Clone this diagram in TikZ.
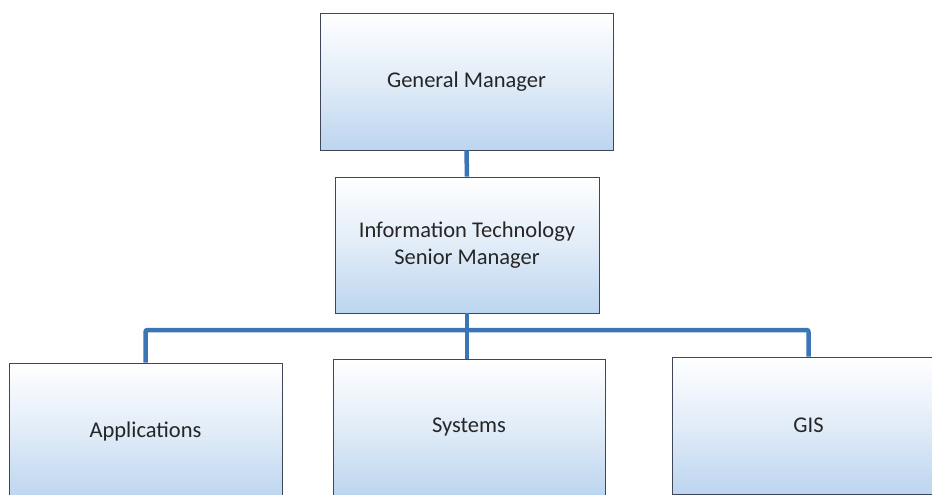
\documentclass[tikz,border=0pt]{standalone}
\usepackage{fontspec}
\setmainfont{Carlito}
\usepackage{tikz}
\usetikzlibrary{positioning}
\definecolor{linkblue}{RGB}{58,117,181}
\definecolor{boxblue}{RGB}{188,213,239}
\definecolor{boxedge}{RGB}{62,70,88}
\tikzset{
  post box/.style={
    draw=boxedge,
    line width=0.9pt,
    top color=white,
    bottom color=boxblue,
    middle color=white!55!boxblue,
    shading angle=0,
    inner sep=0pt,
    align=center,
    text=black!85,
    font=\fontsize{22.5}{27}\selectfont
  },
  link/.style={
    draw=linkblue,
    line width=4.5pt,
    rounded corners=2pt
  }
}
\begin{document}
\begin{tikzpicture}[x=1pt, y=1pt]
    % page frame: 1pt = 1 pixel
    \useasboundingbox (0,0) rectangle (932,-495);

    % top two levels
    \node[post box, minimum width=293pt, minimum height=137pt] (gm) at (466.5,-81.5) {General Manager};
    \node[post box, minimum width=264pt, minimum height=136pt] (itsm) at (467,-245) {Information Technology\\Senior Manager};

    % bottom row
    \node[post box, minimum width=273pt, minimum height=137pt] (apps) at (145.5,-431.5) {Applications};
    \node[post box, minimum width=272pt, minimum height=137pt] (sys) at (469,-427.5) {Systems};
    \node[post box, minimum width=273pt, minimum height=137pt] (gis) at (808.5,-425.5) {GIS};

    % joining bar
    \coordinate (bus) at (467,-330);

    % links
    \draw[link] (gm.south) -- (itsm.north);
    \draw[link] (itsm.south) -- (itsm.south |- sys.north);
    \draw[link] (apps.north) |- (bus) -| (gis.north);
  \end{tikzpicture}
\end{document}
